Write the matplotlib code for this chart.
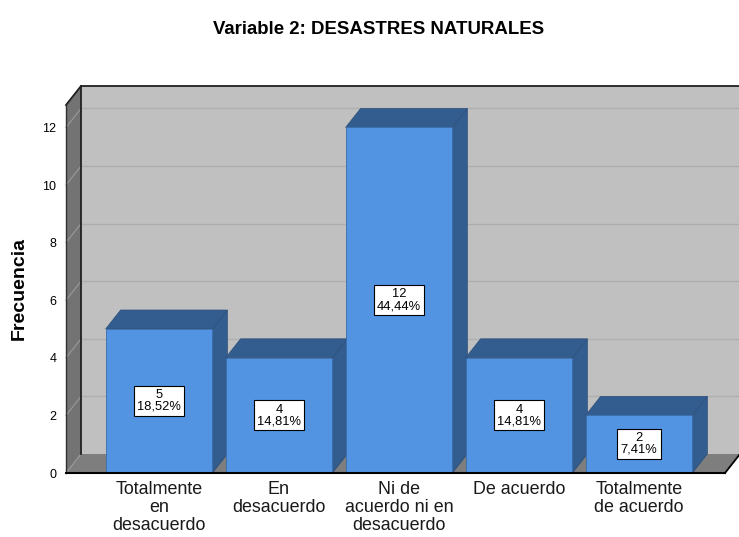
import matplotlib
matplotlib.use("Agg")
import matplotlib.pyplot as plt
from matplotlib.patches import Polygon, Rectangle

plt.rcParams['font.family'] = ['Liberation Sans', 'DejaVu Sans']

categories = ["Totalmente\nen\ndesacuerdo", "En\ndesacuerdo", "Ni de\nacuerdo ni en\ndesacuerdo",
              "De acuerdo", "Totalmente\nde acuerdo"]
counts = [5, 4, 12, 4, 2]
percents = ["18,52%", "14,81%", "44,44%", "14,81%", "7,41%"]
yticks = [0, 2, 4, 6, 8, 10, 12]
title = "Variable 2: DESASTRES NATURALES"
ylabel = "Frecuencia"

W, H = 739, 537
fig = plt.figure(figsize=(W / 100, H / 100), dpi=100)
fig.patch.set_facecolor("white")
ax = fig.add_axes([66 / W, (H - 473) / H, (725 - 66) / W, (473 - 105) / H])
xmin, xmax = -0.775, 4.717
ymin, ymax = 0, 12.78
ax.set_xlim(xmin, xmax)
ax.set_ylim(ymin, ymax)
ax.patch.set_visible(False)
for s in ax.spines.values():
    s.set_visible(False)

# depth offsets in data units (approx 15 px right, 19 px up)
dx = 15 / 120.0
dy = 19 / 28.8

back_col = "#C0C0C0"
left_col = "#737373"
floor_col = "#7E7E7E"
grid_col = "#AEAEAE"
front_col = "#5294E2"
dark_col = "#345D8F"

# back wall
ax.add_patch(Rectangle((xmin + dx, dy), xmax - xmin, ymax, facecolor=back_col,
                       edgecolor="none", clip_on=False, zorder=0))
# gridlines on back wall
for t in yticks[1:]:
    ax.plot([xmin + dx, xmax + dx], [t + dy, t + dy], color=grid_col, lw=1.0,
            clip_on=False, zorder=0.5)
# left wall
ax.add_patch(Polygon([(xmin, 0), (xmin, ymax), (xmin + dx, ymax + dy), (xmin + dx, dy)],
                     closed=True, facecolor=left_col, edgecolor="none", clip_on=False, zorder=1))
for t in yticks[1:]:
    ax.plot([xmin, xmin + dx], [t, t + dy], color="#9A9A9A", lw=0.8, clip_on=False, zorder=1.2)
# floor
ax.add_patch(Polygon([(xmin, 0), (xmax, 0), (xmax + dx, dy), (xmin + dx, dy)],
                     closed=True, facecolor=floor_col, edgecolor="none", clip_on=False, zorder=1))
ax.plot([xmin, xmin + dx], [0, dy], color="#9A9A9A", lw=0.8, clip_on=False, zorder=1.2)

# edges
ax.plot([xmin + dx, xmin + dx], [dy, ymax + dy], color="#202020", lw=1.3, clip_on=False, zorder=1.5)
ax.plot([xmin, xmin + dx, xmax + dx], [ymax, ymax + dy, ymax + dy], color="#202020", lw=1.3,
        clip_on=False, zorder=1.5)
ax.plot([xmin, xmin], [0, ymax], color="#303030", lw=1.0, clip_on=False, zorder=1.5)
ax.plot([xmax, xmax + dx], [0, dy], color="black", lw=1.3, clip_on=False, zorder=1.5)

# bars
bw = 0.89
for i, (v, p) in enumerate(zip(counts, percents)):
    z = 2 + i * 0.1
    x0, x1 = i - bw / 2, i + bw / 2
    ax.add_patch(Polygon([(x1, 0), (x1, v), (x1 + dx, v + dy), (x1 + dx, dy)], closed=True,
                         facecolor=dark_col, edgecolor="#2C4F7A", lw=0.5, clip_on=False, zorder=z))
    ax.add_patch(Polygon([(x0, v), (x1, v), (x1 + dx, v + dy), (x0 + dx, v + dy)], closed=True,
                         facecolor=dark_col, edgecolor="#2C4F7A", lw=0.5, clip_on=False, zorder=z))
    ax.add_patch(Rectangle((x0, 0), bw, v, facecolor=front_col, edgecolor="#3A6DAA", lw=0.6,
                           clip_on=False, zorder=z + 0.01))
    ax.text(i, v / 2, f"{v}\n{p}", ha="center", va="center", fontsize=9.3, linespacing=0.95,
            zorder=5, bbox=dict(boxstyle="square,pad=0.25", facecolor="white",
                                edgecolor="black", lw=0.8))

# front baseline
ax.plot([xmin, xmax], [0, 0], color="black", lw=1.5, clip_on=False, zorder=4)

ax.set_yticks(yticks)
ax.set_yticklabels([str(t) for t in yticks], fontsize=9)
ax.set_xticks(range(len(categories)))
ax.set_xticklabels(categories, fontsize=12.9, linespacing=1.07, color="#1a1a1a")
ax.tick_params(axis="y", length=0, pad=7)
ax.tick_params(axis="x", length=0, pad=6)

fig.text(379 / W, 1 - 29 / H, title, ha="center", va="center", fontsize=13.4, fontweight="bold")
fig.text(19 / W, 1 - 289 / H, ylabel, ha="center", va="center", rotation=90,
         fontsize=14, fontweight="bold")

fig.savefig("out.png", dpi=100, facecolor="white")
